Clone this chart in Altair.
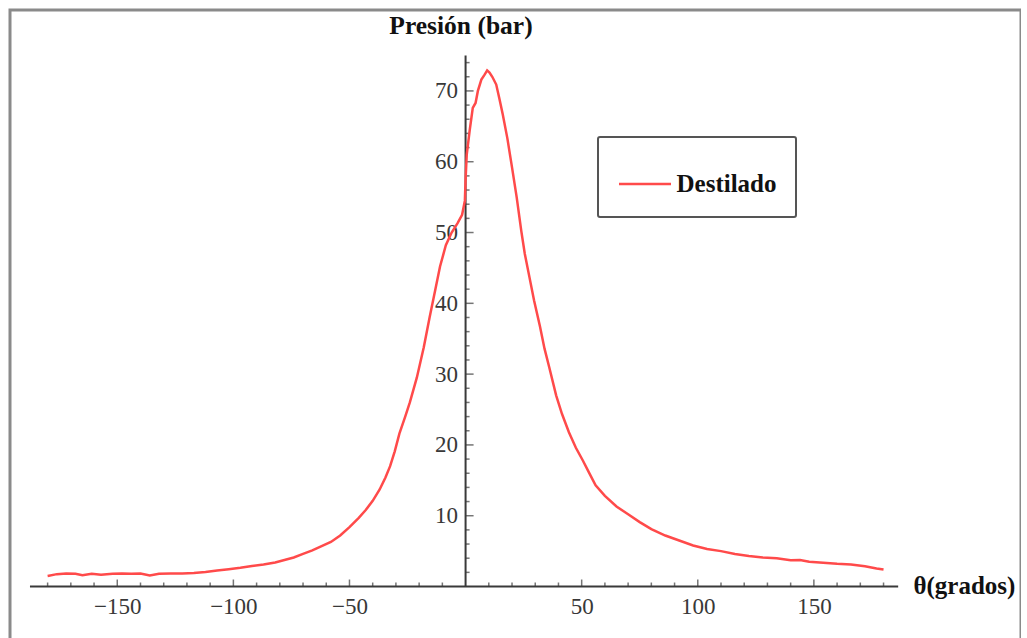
import altair as alt
import pandas as pd

theta = [-180, -176, -172, -168, -165, -161, -157, -152, -148, -144, -140, -136, -132, -127,
         -122, -117, -112, -107, -102, -97, -92, -87, -82, -78, -74, -70, -66, -62, -58, -54,
         -50, -46, -43, -40, -37, -34.5, -32.5, -30.5, -28.5, -26, -24, -21, -18, -15.5, -13,
         -11, -8.5, -6, -3.5, -1.5, -0.3, 0, 0.5, 1.8, 3.1, 4.3, 5.3, 6.8, 8.2, 9.3, 10.3, 11.5,
         13.2, 14.5, 16, 18, 20, 22, 24, 25.5, 27.5, 29.5, 32, 34, 36, 39, 41.5, 44.5, 47.5,
         50.5, 53, 56, 60, 65, 70, 75, 80, 86, 92, 98, 104, 110, 116, 122, 128, 134, 140, 144,
         148, 154, 160, 166, 172, 177, 180]
presion = [1.5, 1.75, 1.85, 1.8, 1.6, 1.8, 1.65, 1.8, 1.85, 1.8, 1.85, 1.55, 1.8, 1.85,
           1.85, 1.9, 2.05, 2.25, 2.45, 2.65, 2.9, 3.1, 3.4, 3.75, 4.1, 4.6, 5.1, 5.7, 6.3, 7.2,
           8.4, 9.7, 10.8, 12.1, 13.7, 15.4, 17.0, 19.1, 21.6, 24.0, 26.0, 29.5, 33.8, 38.0, 42.0,
           45.2, 48.2, 50.0, 51.3, 52.5, 54.5, 57.5, 61.0, 64.5, 67.6, 68.3, 70.0, 71.6, 72.3, 72.9,
           72.6, 72.0, 70.9, 69.0, 66.7, 63.3, 59.2, 55.0, 50.2, 47.0, 43.7, 40.4, 36.8, 33.6, 31.0,
           27.0, 24.4, 21.8, 19.6, 17.8, 16.2, 14.3, 12.8, 11.3, 10.2, 9.1, 8.1, 7.2, 6.5, 5.8,
           5.3, 5.0, 4.6, 4.3, 4.1, 4.0, 3.7, 3.75, 3.5, 3.35, 3.2, 3.1, 2.85, 2.55, 2.4]
series_name = "Destilado"

x_major = [-150, -100, -50, 50, 100, 150]
x_minor = [v for v in range(-180, 181, 10) if v % 50 != 0]
y_major = [10, 20, 30, 40, 50, 60, 70]
y_minor = [v for v in range(2, 75, 2) if v % 10 != 0]
x_axis_extent = [-187.6, 186.3]
y_axis_extent = [0, 75]

xs = alt.Scale(domain=[-196.2, 239.2], nice=False, zero=False)
ys = alt.Scale(domain=[-8.26, 81.43], nice=False, zero=False)

FONT = "Liberation Serif"
AXC = "#3a3a3a"

X_AXIS = alt.Axis(
    values=x_major, domain=False, ticks=False, grid=False, offset=-58.5,
    labelPadding=8.5, labelFont=FONT, labelFontSize=23, labelColor="#383838",
    labelOverlap=False, labelFlush=False,
    title="θ(grados)", titleX=903, titleY=6.5, titleAlign="left",
    titleBaseline="alphabetic", titleFont=FONT, titleFontSize=25,
    titleFontWeight="bold", titleColor="#111")
Y_AXIS = alt.Axis(
    values=y_major, domain=False, ticks=False, grid=False, offset=-455.5,
    labelPadding=8, labelFont=FONT, labelFontSize=23, labelColor="#383838",
    labelOverlap=False, labelFlush=False,
    title="Presión (bar)", titleAngle=0, titleX=-5, titleY=23,
    titleAlign="center", titleBaseline="alphabetic", titleFont=FONT,
    titleFontSize=25.5, titleFontWeight="bold", titleColor="#111")

curve_df = pd.DataFrame({"theta": theta, "p": presion, "serie": series_name})

line = alt.Chart(curve_df).mark_line(strokeWidth=2.5).encode(
    x=alt.X("theta:Q", scale=xs, axis=X_AXIS),
    y=alt.Y("p:Q", scale=ys, axis=Y_AXIS),
    color=alt.Color("serie:N", scale=alt.Scale(domain=[series_name], range=["#ff4a4a"]),
                    legend=alt.Legend(
                        orient="none", legendX=588, legendY=127, title=None,
                        symbolType="stroke", symbolSize=2704, symbolStrokeWidth=2.5,
                        labelFont=FONT, labelFontSize=25, labelFontWeight="bold",
                        labelColor="#111", labelOffset=4, padding=19.5,
                        strokeColor="#555", cornerRadius=2, fillColor="white")),
    order=alt.Order("theta:Q"),
)

xaxis_df = pd.DataFrame({"theta": [x_axis_extent[0]], "theta2": [x_axis_extent[1]], "p": [0]})
yaxis_df = pd.DataFrame({"p": [y_axis_extent[0]], "p2": [y_axis_extent[1]], "theta": [0]})

xline = alt.Chart(xaxis_df).mark_rule(color=AXC, strokeWidth=2).encode(
    x=alt.X("theta:Q", scale=xs, axis=X_AXIS), x2="theta2:Q",
    y=alt.Y("p:Q", scale=ys, axis=Y_AXIS))
yline = alt.Chart(yaxis_df).mark_rule(color=AXC, strokeWidth=2).encode(
    y=alt.Y("p:Q", scale=ys, axis=Y_AXIS), y2="p2:Q",
    x=alt.X("theta:Q", scale=xs, axis=X_AXIS))

def xticks(vals, length):
    return alt.Chart(pd.DataFrame({"theta": vals, "p": 0})).mark_tick(
        orient="vertical", size=length, thickness=1.5, yOffset=-length / 2, color=AXC
    ).encode(x=alt.X("theta:Q", scale=xs, axis=X_AXIS),
             y=alt.Y("p:Q", scale=ys, axis=Y_AXIS))

def yticks(vals, length):
    return alt.Chart(pd.DataFrame({"p": vals, "theta": 0})).mark_tick(
        orient="horizontal", size=length, thickness=1.5, xOffset=length / 2, color=AXC
    ).encode(y=alt.Y("p:Q", scale=ys, axis=Y_AXIS),
             x=alt.X("theta:Q", scale=xs, axis=X_AXIS))

chart = alt.layer(
    xline, yline,
    xticks(x_major, 7), xticks(x_minor, 4),
    yticks(y_major, 8), yticks(y_minor, 4),
    line,
).properties(
    width=1011, height=635,
    autosize=alt.AutoSizeParams(type="none"),
    padding={"left": 10, "top": 10, "right": 0, "bottom": 0},
    background="white",
).configure_view(
    stroke="#8a8a8a", strokeWidth=3
).configure_legend(strokeWidth=2)

chart.save("out.html", embed_options={"renderer": "svg", "actions": False})
